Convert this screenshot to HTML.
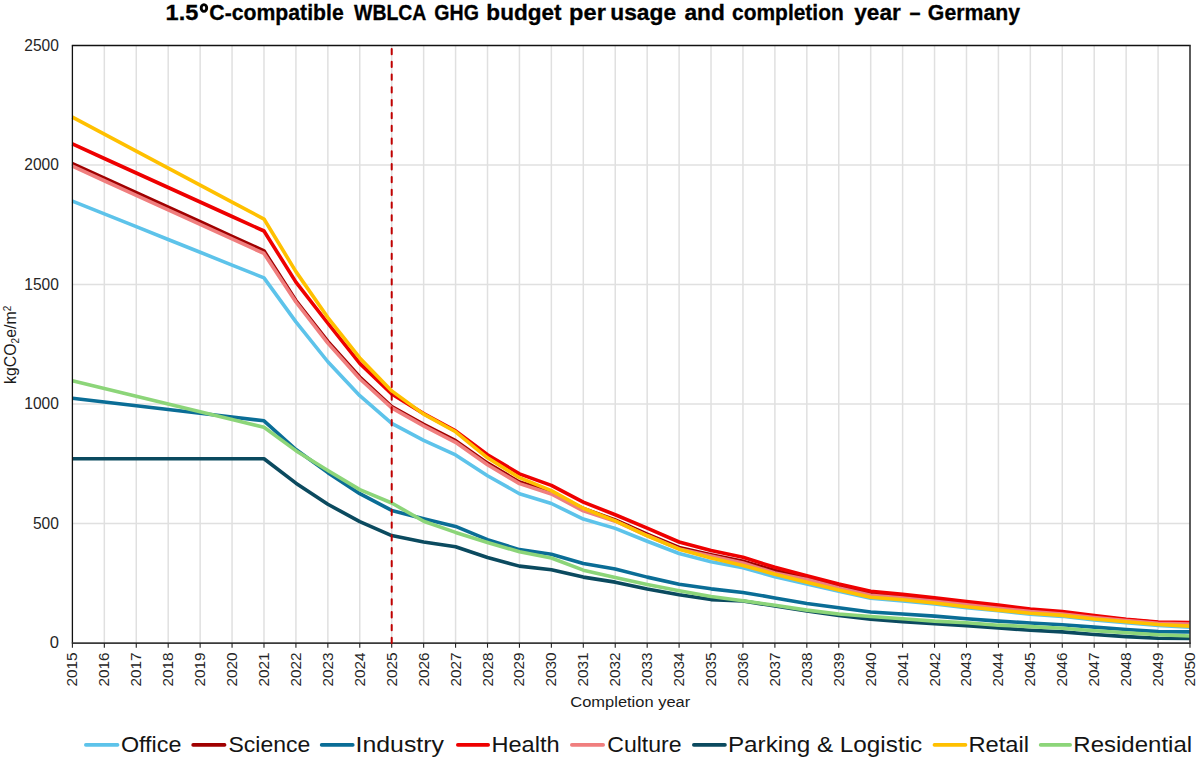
<!DOCTYPE html>
<html><head><meta charset="utf-8"><title>chart</title>
<style>
html,body{margin:0;padding:0;background:#fff;}
body{width:1200px;height:761px;overflow:hidden;}
svg{display:block;}
text{font-family:"Liberation Sans", sans-serif;}
</style></head><body>
<svg width="1200" height="761" viewBox="0 0 1200 761">
<rect x="0" y="0" width="1200" height="761" fill="#fff"/>
<text x="165.63" y="19.5" font-size="22.7" font-weight="bold" fill="#000" stroke="#000" stroke-width="0.3" textLength="32.76" lengthAdjust="spacingAndGlyphs">1.5</text><text x="209.34" y="19.5" font-size="21.8" font-weight="bold" fill="#000" stroke="#000" stroke-width="0.3" textLength="134.39" lengthAdjust="spacingAndGlyphs">C-compatible</text><text x="354.1" y="19.5" font-size="22.3" font-weight="bold" fill="#000" stroke="#000" stroke-width="0.3" textLength="72.27" lengthAdjust="spacingAndGlyphs">WBLCA</text><text x="434.29" y="19.5" font-size="22.3" font-weight="bold" fill="#000" stroke="#000" stroke-width="0.3" textLength="44.67" lengthAdjust="spacingAndGlyphs">GHG</text><text x="486.39" y="19.5" font-size="21.8" font-weight="bold" fill="#000" stroke="#000" stroke-width="0.3" textLength="75.02" lengthAdjust="spacingAndGlyphs">budget</text><text x="569.13" y="19.5" font-size="21.8" font-weight="bold" fill="#000" stroke="#000" stroke-width="0.3" textLength="36.71" lengthAdjust="spacingAndGlyphs">per</text><text x="610.23" y="19.5" font-size="21.8" font-weight="bold" fill="#000" stroke="#000" stroke-width="0.3" textLength="65.84" lengthAdjust="spacingAndGlyphs">usage</text><text x="684.45" y="19.5" font-size="21.8" font-weight="bold" fill="#000" stroke="#000" stroke-width="0.3" textLength="40.3" lengthAdjust="spacingAndGlyphs">and</text><text x="732.05" y="19.5" font-size="21.8" font-weight="bold" fill="#000" stroke="#000" stroke-width="0.3" textLength="111.67" lengthAdjust="spacingAndGlyphs">completion</text><text x="854.3" y="19.5" font-size="21.8" font-weight="bold" fill="#000" stroke="#000" stroke-width="0.3" textLength="46.52" lengthAdjust="spacingAndGlyphs">year</text><text x="909.59" y="19.5" font-size="22" font-weight="bold" fill="#000" stroke="#000" stroke-width="0.3" textLength="11.0" lengthAdjust="spacingAndGlyphs">–</text><text x="927.84" y="19.5" font-size="21.8" font-weight="bold" fill="#000" stroke="#000" stroke-width="0.3" textLength="92.23" lengthAdjust="spacingAndGlyphs">Germany</text><ellipse cx="203.95" cy="8.0" rx="2.75" ry="3.4" fill="none" stroke="#000" stroke-width="2.9"/>
<g stroke="#E0E0E0" stroke-width="1.5"><line x1="104.33" y1="45.5" x2="104.33" y2="643.1" /><line x1="136.26" y1="45.5" x2="136.26" y2="643.1" /><line x1="168.19" y1="45.5" x2="168.19" y2="643.1" /><line x1="200.13" y1="45.5" x2="200.13" y2="643.1" /><line x1="232.06" y1="45.5" x2="232.06" y2="643.1" /><line x1="263.99" y1="45.5" x2="263.99" y2="643.1" /><line x1="295.92" y1="45.5" x2="295.92" y2="643.1" /><line x1="327.85" y1="45.5" x2="327.85" y2="643.1" /><line x1="359.78" y1="45.5" x2="359.78" y2="643.1" /><line x1="391.71" y1="45.5" x2="391.71" y2="643.1" /><line x1="423.65" y1="45.5" x2="423.65" y2="643.1" /><line x1="455.58" y1="45.5" x2="455.58" y2="643.1" /><line x1="487.51" y1="45.5" x2="487.51" y2="643.1" /><line x1="519.44" y1="45.5" x2="519.44" y2="643.1" /><line x1="551.37" y1="45.5" x2="551.37" y2="643.1" /><line x1="583.30" y1="45.5" x2="583.30" y2="643.1" /><line x1="615.23" y1="45.5" x2="615.23" y2="643.1" /><line x1="647.17" y1="45.5" x2="647.17" y2="643.1" /><line x1="679.10" y1="45.5" x2="679.10" y2="643.1" /><line x1="711.03" y1="45.5" x2="711.03" y2="643.1" /><line x1="742.96" y1="45.5" x2="742.96" y2="643.1" /><line x1="774.89" y1="45.5" x2="774.89" y2="643.1" /><line x1="806.82" y1="45.5" x2="806.82" y2="643.1" /><line x1="838.75" y1="45.5" x2="838.75" y2="643.1" /><line x1="870.69" y1="45.5" x2="870.69" y2="643.1" /><line x1="902.62" y1="45.5" x2="902.62" y2="643.1" /><line x1="934.55" y1="45.5" x2="934.55" y2="643.1" /><line x1="966.48" y1="45.5" x2="966.48" y2="643.1" /><line x1="998.41" y1="45.5" x2="998.41" y2="643.1" /><line x1="1030.34" y1="45.5" x2="1030.34" y2="643.1" /><line x1="1062.27" y1="45.5" x2="1062.27" y2="643.1" /><line x1="1094.21" y1="45.5" x2="1094.21" y2="643.1" /><line x1="1126.14" y1="45.5" x2="1126.14" y2="643.1" /><line x1="1158.07" y1="45.5" x2="1158.07" y2="643.1" /><line x1="72.4" y1="523.58" x2="1190.0" y2="523.58" /><line x1="72.4" y1="404.06" x2="1190.0" y2="404.06" /><line x1="72.4" y1="284.54" x2="1190.0" y2="284.54" /><line x1="72.4" y1="165.02" x2="1190.0" y2="165.02" /></g>
<text x="49.70" y="648.40" font-size="15.8" fill="#262626" textLength="9.2" lengthAdjust="spacingAndGlyphs">0</text><text x="32.90" y="528.88" font-size="15.8" fill="#262626" textLength="26.0" lengthAdjust="spacingAndGlyphs">500</text><text x="24.30" y="409.36" font-size="15.8" fill="#262626" textLength="34.6" lengthAdjust="spacingAndGlyphs">1000</text><text x="24.30" y="289.84" font-size="15.8" fill="#262626" textLength="34.6" lengthAdjust="spacingAndGlyphs">1500</text><text x="24.30" y="170.32" font-size="15.8" fill="#262626" textLength="34.6" lengthAdjust="spacingAndGlyphs">2000</text><text x="24.30" y="50.80" font-size="15.8" fill="#262626" textLength="34.6" lengthAdjust="spacingAndGlyphs">2500</text>
<text transform="translate(16,344.9) rotate(-90)" font-size="15.9" text-anchor="middle" fill="#1a1a1a">kgCO<tspan font-size="10" dy="3">2</tspan><tspan dy="-3">e/m</tspan><tspan font-size="10" dy="-5">2</tspan></text>
<text transform="translate(77.40,686.6) rotate(-90)" font-size="14.9" fill="#262626" textLength="34.2" lengthAdjust="spacingAndGlyphs">2015</text><text transform="translate(109.33,686.6) rotate(-90)" font-size="14.9" fill="#262626" textLength="34.2" lengthAdjust="spacingAndGlyphs">2016</text><text transform="translate(141.26,686.6) rotate(-90)" font-size="14.9" fill="#262626" textLength="34.2" lengthAdjust="spacingAndGlyphs">2017</text><text transform="translate(173.19,686.6) rotate(-90)" font-size="14.9" fill="#262626" textLength="34.2" lengthAdjust="spacingAndGlyphs">2018</text><text transform="translate(205.13,686.6) rotate(-90)" font-size="14.9" fill="#262626" textLength="34.2" lengthAdjust="spacingAndGlyphs">2019</text><text transform="translate(237.06,686.6) rotate(-90)" font-size="14.9" fill="#262626" textLength="34.2" lengthAdjust="spacingAndGlyphs">2020</text><text transform="translate(268.99,686.6) rotate(-90)" font-size="14.9" fill="#262626" textLength="34.2" lengthAdjust="spacingAndGlyphs">2021</text><text transform="translate(300.92,686.6) rotate(-90)" font-size="14.9" fill="#262626" textLength="34.2" lengthAdjust="spacingAndGlyphs">2022</text><text transform="translate(332.85,686.6) rotate(-90)" font-size="14.9" fill="#262626" textLength="34.2" lengthAdjust="spacingAndGlyphs">2023</text><text transform="translate(364.78,686.6) rotate(-90)" font-size="14.9" fill="#262626" textLength="34.2" lengthAdjust="spacingAndGlyphs">2024</text><text transform="translate(396.71,686.6) rotate(-90)" font-size="14.9" fill="#262626" textLength="34.2" lengthAdjust="spacingAndGlyphs">2025</text><text transform="translate(428.65,686.6) rotate(-90)" font-size="14.9" fill="#262626" textLength="34.2" lengthAdjust="spacingAndGlyphs">2026</text><text transform="translate(460.58,686.6) rotate(-90)" font-size="14.9" fill="#262626" textLength="34.2" lengthAdjust="spacingAndGlyphs">2027</text><text transform="translate(492.51,686.6) rotate(-90)" font-size="14.9" fill="#262626" textLength="34.2" lengthAdjust="spacingAndGlyphs">2028</text><text transform="translate(524.44,686.6) rotate(-90)" font-size="14.9" fill="#262626" textLength="34.2" lengthAdjust="spacingAndGlyphs">2029</text><text transform="translate(556.37,686.6) rotate(-90)" font-size="14.9" fill="#262626" textLength="34.2" lengthAdjust="spacingAndGlyphs">2030</text><text transform="translate(588.30,686.6) rotate(-90)" font-size="14.9" fill="#262626" textLength="34.2" lengthAdjust="spacingAndGlyphs">2031</text><text transform="translate(620.23,686.6) rotate(-90)" font-size="14.9" fill="#262626" textLength="34.2" lengthAdjust="spacingAndGlyphs">2032</text><text transform="translate(652.17,686.6) rotate(-90)" font-size="14.9" fill="#262626" textLength="34.2" lengthAdjust="spacingAndGlyphs">2033</text><text transform="translate(684.10,686.6) rotate(-90)" font-size="14.9" fill="#262626" textLength="34.2" lengthAdjust="spacingAndGlyphs">2034</text><text transform="translate(716.03,686.6) rotate(-90)" font-size="14.9" fill="#262626" textLength="34.2" lengthAdjust="spacingAndGlyphs">2035</text><text transform="translate(747.96,686.6) rotate(-90)" font-size="14.9" fill="#262626" textLength="34.2" lengthAdjust="spacingAndGlyphs">2036</text><text transform="translate(779.89,686.6) rotate(-90)" font-size="14.9" fill="#262626" textLength="34.2" lengthAdjust="spacingAndGlyphs">2037</text><text transform="translate(811.82,686.6) rotate(-90)" font-size="14.9" fill="#262626" textLength="34.2" lengthAdjust="spacingAndGlyphs">2038</text><text transform="translate(843.75,686.6) rotate(-90)" font-size="14.9" fill="#262626" textLength="34.2" lengthAdjust="spacingAndGlyphs">2039</text><text transform="translate(875.69,686.6) rotate(-90)" font-size="14.9" fill="#262626" textLength="34.2" lengthAdjust="spacingAndGlyphs">2040</text><text transform="translate(907.62,686.6) rotate(-90)" font-size="14.9" fill="#262626" textLength="34.2" lengthAdjust="spacingAndGlyphs">2041</text><text transform="translate(939.55,686.6) rotate(-90)" font-size="14.9" fill="#262626" textLength="34.2" lengthAdjust="spacingAndGlyphs">2042</text><text transform="translate(971.48,686.6) rotate(-90)" font-size="14.9" fill="#262626" textLength="34.2" lengthAdjust="spacingAndGlyphs">2043</text><text transform="translate(1003.41,686.6) rotate(-90)" font-size="14.9" fill="#262626" textLength="34.2" lengthAdjust="spacingAndGlyphs">2044</text><text transform="translate(1035.34,686.6) rotate(-90)" font-size="14.9" fill="#262626" textLength="34.2" lengthAdjust="spacingAndGlyphs">2045</text><text transform="translate(1067.27,686.6) rotate(-90)" font-size="14.9" fill="#262626" textLength="34.2" lengthAdjust="spacingAndGlyphs">2046</text><text transform="translate(1099.21,686.6) rotate(-90)" font-size="14.9" fill="#262626" textLength="34.2" lengthAdjust="spacingAndGlyphs">2047</text><text transform="translate(1131.14,686.6) rotate(-90)" font-size="14.9" fill="#262626" textLength="34.2" lengthAdjust="spacingAndGlyphs">2048</text><text transform="translate(1163.07,686.6) rotate(-90)" font-size="14.9" fill="#262626" textLength="34.2" lengthAdjust="spacingAndGlyphs">2049</text><text transform="translate(1195.00,686.6) rotate(-90)" font-size="14.9" fill="#262626" textLength="34.2" lengthAdjust="spacingAndGlyphs">2050</text>
<text x="570.33" y="707.3" font-size="15.5" fill="#1a1a1a" textLength="119.85" lengthAdjust="spacingAndGlyphs">Completion year</text>
<polyline fill="none" stroke="#5DC3EA" stroke-width="3.6" stroke-linejoin="round" points="72.40,201.12 104.33,213.90 136.26,226.69 168.19,239.48 200.13,252.27 232.06,265.06 263.99,277.85 295.92,321.83 327.85,361.75 359.78,395.69 391.71,423.42 423.65,440.39 455.58,454.98 487.51,475.77 519.44,493.70 551.37,503.50 583.30,519.04 615.23,528.36 647.17,541.27 679.10,553.46 711.03,561.83 742.96,567.80 774.89,576.65 806.82,584.06 838.75,591.23 870.69,598.16 902.62,601.03 934.55,603.90 966.48,607.72 998.41,610.83 1030.34,614.18 1062.27,616.33 1094.21,619.91 1126.14,622.78 1158.07,625.41 1190.00,627.32"/>
<polyline fill="none" stroke="#A00000" stroke-width="3.6" stroke-linejoin="round" points="72.40,163.59 104.33,178.13 136.26,192.67 168.19,207.21 200.13,221.75 232.06,236.29 263.99,250.84 295.92,300.56 327.85,341.43 359.78,377.05 391.71,406.45 423.65,424.38 455.58,440.63 487.51,463.10 519.44,481.99 551.37,492.03 583.30,508.52 615.23,519.99 647.17,534.10 679.10,547.48 711.03,554.66 742.96,561.35 774.89,570.43 806.82,578.56 838.75,586.93 870.69,594.10 902.62,596.97 934.55,600.55 966.48,604.14 998.41,607.24 1030.34,610.83 1062.27,612.98 1094.21,616.57 1126.14,619.91 1158.07,622.54 1190.00,623.02"/>
<polyline fill="none" stroke="#0A6D96" stroke-width="3.6" stroke-linejoin="round" points="72.40,398.32 104.33,402.07 136.26,405.81 168.19,409.56 200.13,413.30 232.06,417.05 263.99,420.79 295.92,449.48 327.85,472.66 359.78,493.70 391.71,510.43 423.65,518.80 455.58,526.45 487.51,539.60 519.44,549.64 551.37,554.18 583.30,563.50 615.23,569.00 647.17,577.12 679.10,584.30 711.03,588.84 742.96,592.42 774.89,597.92 806.82,603.42 838.75,607.72 870.69,612.02 902.62,613.94 934.55,616.09 966.48,618.72 998.41,621.11 1030.34,623.02 1062.27,624.69 1094.21,627.08 1126.14,629.47 1158.07,631.63 1190.00,631.87"/>
<polyline fill="none" stroke="#EE0000" stroke-width="3.6" stroke-linejoin="round" points="72.40,143.98 104.33,158.49 136.26,172.99 168.19,187.49 200.13,201.99 232.06,216.49 263.99,231.00 295.92,282.15 327.85,323.26 359.78,363.42 391.71,394.02 423.65,413.62 455.58,430.83 487.51,454.74 519.44,473.86 551.37,485.33 583.30,502.07 615.23,514.74 647.17,528.12 679.10,541.99 711.03,550.59 742.96,557.28 774.89,567.32 806.82,575.69 838.75,584.06 870.69,591.23 902.62,594.34 934.55,597.68 966.48,601.51 998.41,605.09 1030.34,608.92 1062.27,611.55 1094.21,615.61 1126.14,619.20 1158.07,622.06 1190.00,622.54"/>
<polyline fill="none" stroke="#F07E7E" stroke-width="3.6" stroke-linejoin="round" points="72.40,166.22 104.33,180.76 136.26,195.30 168.19,209.84 200.13,224.38 232.06,238.92 263.99,253.46 295.92,301.99 327.85,343.10 359.78,378.72 391.71,407.88 423.65,425.81 455.58,442.31 487.51,464.78 519.44,483.66 551.37,493.94 583.30,510.91 615.23,521.19 647.17,535.53 679.10,548.92 711.03,556.09 742.96,563.02 774.89,573.06 806.82,579.52 838.75,587.88 870.69,595.29 902.62,598.16 934.55,601.27 966.48,604.85 998.41,608.20 1030.34,611.55 1062.27,613.94 1094.21,617.52 1126.14,620.63 1158.07,623.26 1190.00,623.98"/>
<polyline fill="none" stroke="#0B4A5F" stroke-width="3.6" stroke-linejoin="round" points="72.40,458.80 104.33,458.80 136.26,458.80 168.19,458.80 200.13,458.80 232.06,458.80 263.99,458.80 295.92,483.18 327.85,504.22 359.78,521.67 391.71,535.53 423.65,541.99 455.58,546.77 487.51,557.52 519.44,566.13 551.37,569.71 583.30,577.12 615.23,582.14 647.17,589.08 679.10,594.81 711.03,599.59 742.96,601.03 774.89,606.05 806.82,611.07 838.75,615.37 870.69,619.20 902.62,621.59 934.55,623.74 966.48,625.65 998.41,628.04 1030.34,630.19 1062.27,631.87 1094.21,634.49 1126.14,636.65 1158.07,638.32 1190.00,638.56"/>
<polyline fill="none" stroke="#FFC000" stroke-width="3.6" stroke-linejoin="round" points="72.40,117.21 104.33,134.18 136.26,151.16 168.19,168.13 200.13,185.10 232.06,202.07 263.99,219.04 295.92,271.63 327.85,317.53 359.78,357.93 391.71,390.91 423.65,414.10 455.58,431.79 487.51,457.84 519.44,477.68 551.37,490.59 583.30,508.28 615.23,520.95 647.17,535.77 679.10,549.16 711.03,558.00 742.96,565.41 774.89,574.26 806.82,582.14 838.75,590.03 870.69,597.20 902.62,599.83 934.55,602.94 966.48,606.77 998.41,610.11 1030.34,613.22 1062.27,615.37 1094.21,618.96 1126.14,621.83 1158.07,624.45 1190.00,626.13"/>
<polyline fill="none" stroke="#8CD579" stroke-width="3.6" stroke-linejoin="round" points="72.40,380.87 104.33,388.60 136.26,396.33 168.19,404.06 200.13,411.79 232.06,419.52 263.99,427.25 295.92,450.67 327.85,470.51 359.78,489.64 391.71,503.02 423.65,521.19 455.58,532.42 487.51,542.46 519.44,551.79 551.37,558.00 583.30,570.19 615.23,577.60 647.17,584.54 679.10,590.75 711.03,596.49 742.96,600.79 774.89,605.33 806.82,610.11 838.75,613.94 870.69,616.57 902.62,618.72 934.55,621.11 966.48,622.78 998.41,625.17 1030.34,626.61 1062.27,628.28 1094.21,630.67 1126.14,632.82 1158.07,634.73 1190.00,635.93"/>
<line x1="71.80000000000001" y1="45.5" x2="1190.7" y2="45.5" stroke="#111" stroke-width="1.3"/><line x1="72.4" y1="45.5" x2="72.4" y2="643.1" stroke="#111" stroke-width="1.3"/><line x1="1190.0" y1="45.5" x2="1190.0" y2="643.1" stroke="#333" stroke-width="1.6"/><line x1="71.80000000000001" y1="643.1" x2="1190.8" y2="643.1" stroke="#3a3a3a" stroke-width="1.9"/><g stroke="#222" stroke-width="1.1"><line x1="72.40" y1="643.1" x2="72.40" y2="647.7"/><line x1="104.33" y1="643.1" x2="104.33" y2="647.7"/><line x1="136.26" y1="643.1" x2="136.26" y2="647.7"/><line x1="168.19" y1="643.1" x2="168.19" y2="647.7"/><line x1="200.13" y1="643.1" x2="200.13" y2="647.7"/><line x1="232.06" y1="643.1" x2="232.06" y2="647.7"/><line x1="263.99" y1="643.1" x2="263.99" y2="647.7"/><line x1="295.92" y1="643.1" x2="295.92" y2="647.7"/><line x1="327.85" y1="643.1" x2="327.85" y2="647.7"/><line x1="359.78" y1="643.1" x2="359.78" y2="647.7"/><line x1="391.71" y1="643.1" x2="391.71" y2="647.7"/><line x1="423.65" y1="643.1" x2="423.65" y2="647.7"/><line x1="455.58" y1="643.1" x2="455.58" y2="647.7"/><line x1="487.51" y1="643.1" x2="487.51" y2="647.7"/><line x1="519.44" y1="643.1" x2="519.44" y2="647.7"/><line x1="551.37" y1="643.1" x2="551.37" y2="647.7"/><line x1="583.30" y1="643.1" x2="583.30" y2="647.7"/><line x1="615.23" y1="643.1" x2="615.23" y2="647.7"/><line x1="647.17" y1="643.1" x2="647.17" y2="647.7"/><line x1="679.10" y1="643.1" x2="679.10" y2="647.7"/><line x1="711.03" y1="643.1" x2="711.03" y2="647.7"/><line x1="742.96" y1="643.1" x2="742.96" y2="647.7"/><line x1="774.89" y1="643.1" x2="774.89" y2="647.7"/><line x1="806.82" y1="643.1" x2="806.82" y2="647.7"/><line x1="838.75" y1="643.1" x2="838.75" y2="647.7"/><line x1="870.69" y1="643.1" x2="870.69" y2="647.7"/><line x1="902.62" y1="643.1" x2="902.62" y2="647.7"/><line x1="934.55" y1="643.1" x2="934.55" y2="647.7"/><line x1="966.48" y1="643.1" x2="966.48" y2="647.7"/><line x1="998.41" y1="643.1" x2="998.41" y2="647.7"/><line x1="1030.34" y1="643.1" x2="1030.34" y2="647.7"/><line x1="1062.27" y1="643.1" x2="1062.27" y2="647.7"/><line x1="1094.21" y1="643.1" x2="1094.21" y2="647.7"/><line x1="1126.14" y1="643.1" x2="1126.14" y2="647.7"/><line x1="1158.07" y1="643.1" x2="1158.07" y2="647.7"/><line x1="1190.00" y1="643.1" x2="1190.00" y2="647.7"/></g>
<line x1="391.71" y1="48.9" x2="391.71" y2="644.5" stroke="#C00000" stroke-width="2" stroke-linecap="round" stroke-dasharray="5.3,7.5"/>
<line x1="85.8" y1="744.9" x2="117.6" y2="744.9" stroke="#5DC3EA" stroke-width="3.6" stroke-linecap="round"/><text x="120.91" y="752.3" font-size="22" fill="#141414" textLength="60.54" lengthAdjust="spacingAndGlyphs">Office</text>
<line x1="193.1" y1="744.9" x2="224.6" y2="744.9" stroke="#A00000" stroke-width="3.6" stroke-linecap="round"/><text x="228.48" y="752.3" font-size="22" fill="#141414" textLength="81.75" lengthAdjust="spacingAndGlyphs">Science</text>
<line x1="321.6" y1="744.9" x2="352.8" y2="744.9" stroke="#0A6D96" stroke-width="3.6" stroke-linecap="round"/><text x="355.56" y="752.3" font-size="22" fill="#141414" textLength="88.44" lengthAdjust="spacingAndGlyphs">Industry</text>
<line x1="457.8" y1="744.9" x2="488.2" y2="744.9" stroke="#EE0000" stroke-width="3.6" stroke-linecap="round"/><text x="491.46" y="752.3" font-size="22" fill="#141414" textLength="68.17" lengthAdjust="spacingAndGlyphs">Health</text>
<line x1="571.8" y1="744.9" x2="603.2" y2="744.9" stroke="#F07E7E" stroke-width="3.6" stroke-linecap="round"/><text x="607.22" y="752.3" font-size="22" fill="#141414" textLength="74.42" lengthAdjust="spacingAndGlyphs">Culture</text>
<line x1="693.8" y1="744.9" x2="725.0" y2="744.9" stroke="#0B4A5F" stroke-width="3.6" stroke-linecap="round"/><text x="727.9" y="752.3" font-size="22" fill="#141414" textLength="194.28" lengthAdjust="spacingAndGlyphs">Parking &amp; Logistic</text>
<line x1="934.4" y1="744.9" x2="965.5" y2="744.9" stroke="#FFC000" stroke-width="3.6" stroke-linecap="round"/><text x="968.45" y="752.3" font-size="22" fill="#141414" textLength="60.62" lengthAdjust="spacingAndGlyphs">Retail</text>
<line x1="1040.6" y1="744.9" x2="1070.2" y2="744.9" stroke="#8CD579" stroke-width="3.6" stroke-linecap="round"/><text x="1073.32" y="752.3" font-size="22" fill="#141414" textLength="118.76" lengthAdjust="spacingAndGlyphs">Residential</text>
</svg>
</body></html>
